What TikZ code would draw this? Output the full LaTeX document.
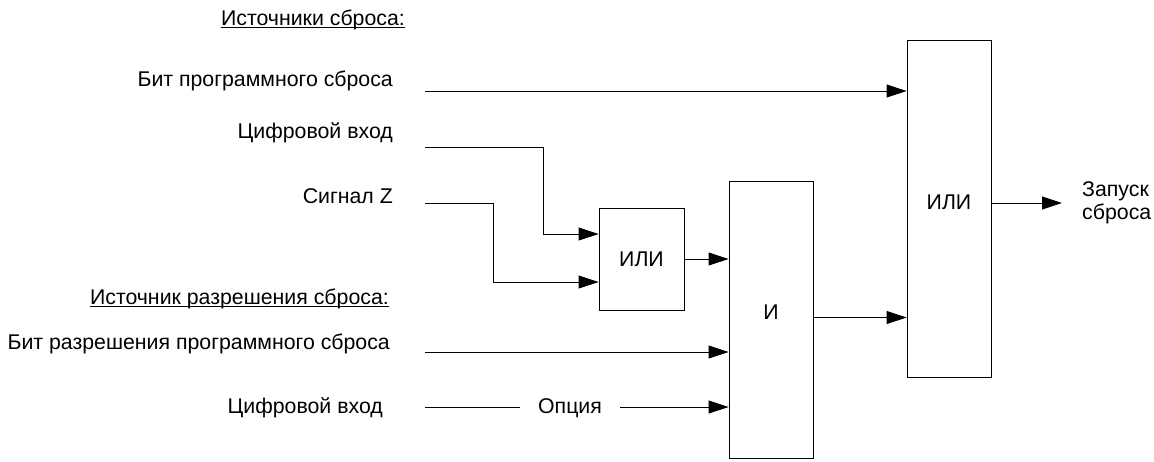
\documentclass[tikz,border=0pt]{standalone}
\usepackage{fontspec}
\setmainfont{Liberation Sans}
\usetikzlibrary{arrows.meta,positioning,calc}
\newcommand{\hdrline}[1]{\setbox0\hbox{#1}\rlap{\rule[-2.5pt]{\wd0}{0.9pt}}\box0}
\tikzset{
  gate/.style={draw, line width=0.9pt, minimum width=85pt, inner sep=0pt},
  wire/.style={line width=0.9pt},
  sig/.style={wire, -{Triangle[length=20pt,width=13pt]}},
  lbl/.style={inner sep=0pt, anchor=base east},
}
\begin{document}
\begin{tikzpicture}[x=1pt, y=-1pt, font=\fontsize{21.3}{23}\selectfont]
  \useasboundingbox (0,0) rectangle (1154,461);

  % reset sources
  \node[lbl] (hdrsrc) at (405,25) {\hdrline{Источники сброса:}};
  \node[lbl] (swbit) at (393,86) {Бит программного сброса};
  \node[lbl] (din) at (393,138) {Цифровой вход};
  \node[lbl] (sigz) at (393,203) {Сигнал Z};
  \coordinate (swbit-o) at (425,91);
  \coordinate (din-o) at (425,147);
  \coordinate (sigz-o) at (425,203);

  % enable sources
  \node[lbl] (hdren) at (389,304) {\hdrline{Источник разрешения сброса:}};
  \node[lbl] (swen) at (390,349) {Бит разрешения программного сброса};
  \node[lbl] (dinen) at (383,413) {Цифровой вход};
  \coordinate (swen-o) at (425,352);
  \coordinate (dinen-o) at (425,407);
  \node[inner xsep=18pt, inner ysep=0pt, anchor=base] (opt) at (570,413) {Опция};

  % gates
  \node[gate, minimum height=102pt] (or1) at (641.5,259) {ИЛИ};
  \node[gate, minimum width=84pt, minimum height=277pt,
        label={[yshift=7pt]center:И}] (and) at (771,319.5) {};
  \node[gate, minimum width=84pt, minimum height=337pt,
        label={[yshift=6pt]center:ИЛИ}] (or2) at (949,208.5) {};
  \node[anchor=west, align=left, inner xsep=20pt, inner ysep=0pt] (rst) at (1062,203) {Запуск\\сброса};

  % connections
  \draw[sig] (swbit-o) -- (swbit-o -| or2.west);
  \draw[sig] (din-o) -- ++(118,0) |- ([yshift=25pt]or1.west);
  \draw[sig] (sigz-o) -- ++(68,0) |- ([yshift=-23pt]or1.west);
  \draw[sig] (or1.east) -- (or1.east -| and.west);
  \draw[sig] (swen-o) -- (swen-o -| and.west);
  \draw[wire] (dinen-o) -- (dinen-o -| opt.west);
  \draw[sig] (opt.east |- dinen-o) -- (dinen-o -| and.west);
  \draw[sig] ([yshift=2pt]and.east) -- ([yshift=2pt]and.east -| or2.west);
  \draw[sig] (rst.west -| or2.east) -- (rst.west);
\end{tikzpicture}
\end{document}
